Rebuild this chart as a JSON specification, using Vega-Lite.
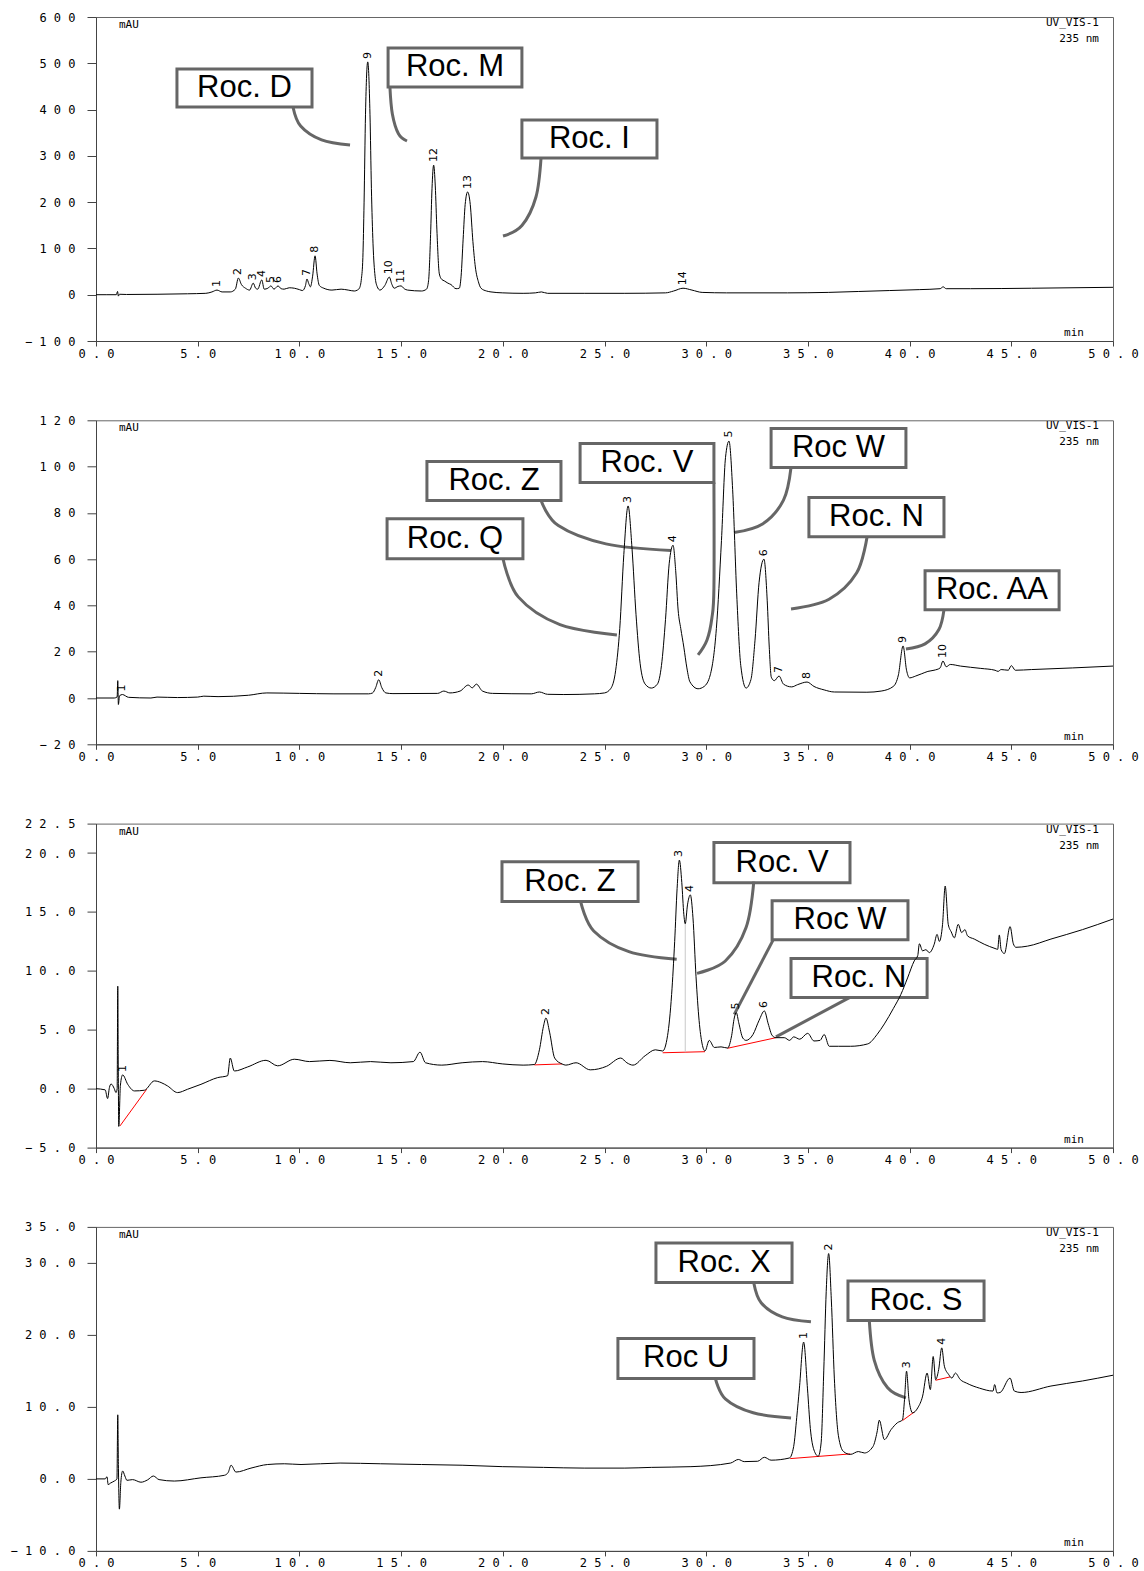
{
"$schema": "https://vega.github.io/schema/vega-lite/v6.json",
"padding": {"left": 9, "top": 10, "right": 0, "bottom": 0},
"background": "#ffffff",
"spacing": 79.3,
"bounds": "flush",
"config": {
  "view": {"stroke": "#666666", "strokeWidth": 1},
  "axis": {"grid": false, "domainColor": "#444444", "tickColor": "#444444", "labelFont": "DejaVu Sans Mono", "labelFontSize": 12, "labelColor": "#000000", "labelFlush": false, "labelOverlap": false, "domainWidth": 1, "tickWidth": 1},
  "axisX": {"tickSize": 5, "labelPadding": 2},
  "axisY": {"tickSize": 9, "labelPadding": 12}
},
"datasets": {
"trace": [
{"p":1,"t":0,"v":0},{"p":1,"t":0.5,"v":0},{"p":1,"t":1.0,"v":0},{"p":1,"t":1.06,"v":7},{"p":1,"t":1.1,"v":-3},{"p":1,"t":1.15,"v":1},{"p":1,"t":1.5,"v":0.5},{"p":1,"t":3.0,"v":1},{"p":1,"t":4.5,"v":2},{"p":1,"t":5.4,"v":3},{"p":1,"t":5.7,"v":6},{"p":1,"t":5.95,"v":10},{"p":1,"t":6.2,"v":6},{"p":1,"t":6.6,"v":6},{"p":1,"t":6.85,"v":12},{"p":1,"t":7.0,"v":36},{"p":1,"t":7.15,"v":22},{"p":1,"t":7.35,"v":14},{"p":1,"t":7.55,"v":10},{"p":1,"t":7.73,"v":25},{"p":1,"t":7.85,"v":14},{"p":1,"t":7.95,"v":12},{"p":1,"t":8.15,"v":32},{"p":1,"t":8.27,"v":12},{"p":1,"t":8.45,"v":14},{"p":1,"t":8.6,"v":19},{"p":1,"t":8.75,"v":12},{"p":1,"t":8.95,"v":19},{"p":1,"t":9.1,"v":13},{"p":1,"t":9.25,"v":12},{"p":1,"t":9.5,"v":15},{"p":1,"t":9.75,"v":14},{"p":1,"t":10.0,"v":11},{"p":1,"t":10.15,"v":9},{"p":1,"t":10.3,"v":20},{"p":1,"t":10.37,"v":34},{"p":1,"t":10.46,"v":24},{"p":1,"t":10.54,"v":17},{"p":1,"t":10.65,"v":40},{"p":1,"t":10.77,"v":84},{"p":1,"t":10.87,"v":45},{"p":1,"t":10.98,"v":20},{"p":1,"t":11.2,"v":14},{"p":1,"t":11.6,"v":10},{"p":1,"t":12.05,"v":12},{"p":1,"t":12.4,"v":10},{"p":1,"t":12.7,"v":8},{"p":1,"t":12.85,"v":10},{"p":1,"t":12.95,"v":14},{"p":1,"t":13.05,"v":35},{"p":1,"t":13.12,"v":80},{"p":1,"t":13.18,"v":200},{"p":1,"t":13.25,"v":390},{"p":1,"t":13.36,"v":503},{"p":1,"t":13.47,"v":390},{"p":1,"t":13.54,"v":230},{"p":1,"t":13.62,"v":110},{"p":1,"t":13.72,"v":40},{"p":1,"t":13.82,"v":18},{"p":1,"t":13.96,"v":10},{"p":1,"t":14.2,"v":20},{"p":1,"t":14.42,"v":38},{"p":1,"t":14.55,"v":22},{"p":1,"t":14.66,"v":14},{"p":1,"t":14.85,"v":18},{"p":1,"t":15.0,"v":19},{"p":1,"t":15.15,"v":13},{"p":1,"t":15.32,"v":10},{"p":1,"t":16.0,"v":8},{"p":1,"t":16.25,"v":12},{"p":1,"t":16.35,"v":30},{"p":1,"t":16.45,"v":130},{"p":1,"t":16.52,"v":230},{"p":1,"t":16.6,"v":280},{"p":1,"t":16.68,"v":235},{"p":1,"t":16.76,"v":140},{"p":1,"t":16.88,"v":45},{"p":1,"t":17.0,"v":33},{"p":1,"t":17.12,"v":30},{"p":1,"t":17.3,"v":25},{"p":1,"t":17.45,"v":22},{"p":1,"t":17.7,"v":13},{"p":1,"t":17.86,"v":14},{"p":1,"t":17.95,"v":40},{"p":1,"t":18.05,"v":120},{"p":1,"t":18.15,"v":195},{"p":1,"t":18.27,"v":222},{"p":1,"t":18.4,"v":195},{"p":1,"t":18.53,"v":115},{"p":1,"t":18.65,"v":60},{"p":1,"t":18.8,"v":28},{"p":1,"t":18.93,"v":14},{"p":1,"t":19.2,"v":8},{"p":1,"t":19.42,"v":6},{"p":1,"t":20.0,"v":4},{"p":1,"t":21.0,"v":3},{"p":1,"t":21.6,"v":4},{"p":1,"t":21.9,"v":6},{"p":1,"t":22.2,"v":3},{"p":1,"t":24.0,"v":3},{"p":1,"t":26.0,"v":3},{"p":1,"t":28.0,"v":4},{"p":1,"t":28.4,"v":8},{"p":1,"t":28.86,"v":14},{"p":1,"t":29.3,"v":10},{"p":1,"t":29.8,"v":5},{"p":1,"t":31.0,"v":4},{"p":1,"t":34.0,"v":4},{"p":1,"t":36.0,"v":5},{"p":1,"t":37.5,"v":7},{"p":1,"t":39.0,"v":9},{"p":1,"t":40.5,"v":11},{"p":1,"t":41.5,"v":13},{"p":1,"t":41.65,"v":17},{"p":1,"t":41.8,"v":13},{"p":1,"t":43.0,"v":13},{"p":1,"t":46.0,"v":14},{"p":1,"t":50.0,"v":16},

{"p":2,"t":0,"v":0},{"p":2,"t":0.9,"v":0},{"p":2,"t":1.04,"v":0.5},{"p":2,"t":1.07,"v":7.5},{"p":2,"t":1.1,"v":-2.8},{"p":2,"t":1.16,"v":1},{"p":2,"t":1.3,"v":1.5},{"p":2,"t":1.6,"v":0.3},{"p":2,"t":2.7,"v":0},{"p":2,"t":3.0,"v":0.4},{"p":2,"t":4.0,"v":0.2},{"p":2,"t":5.0,"v":0.4},{"p":2,"t":5.3,"v":0.8},{"p":2,"t":6.0,"v":0.6},{"p":2,"t":7.5,"v":1.2},{"p":2,"t":8.4,"v":2.2},{"p":2,"t":10.0,"v":2.0},{"p":2,"t":11.7,"v":1.8},{"p":2,"t":13.4,"v":1.8},{"p":2,"t":13.6,"v":2.2},{"p":2,"t":13.75,"v":4.5},{"p":2,"t":13.9,"v":7.9},{"p":2,"t":14.05,"v":4.5},{"p":2,"t":14.25,"v":2.2},{"p":2,"t":14.6,"v":1.9},{"p":2,"t":16.8,"v":2.0},{"p":2,"t":17.1,"v":3.0},{"p":2,"t":17.4,"v":2.2},{"p":2,"t":17.9,"v":3.0},{"p":2,"t":18.3,"v":5.6},{"p":2,"t":18.5,"v":4.4},{"p":2,"t":18.7,"v":6.0},{"p":2,"t":19.0,"v":3.0},{"p":2,"t":19.5,"v":2.0},{"p":2,"t":21.4,"v":1.8},{"p":2,"t":21.8,"v":2.6},{"p":2,"t":22.2,"v":1.6},{"p":2,"t":23.0,"v":1.5},{"p":2,"t":24.5,"v":1.8},{"p":2,"t":25.0,"v":2.2},{"p":2,"t":25.3,"v":4},{"p":2,"t":25.55,"v":12},{"p":2,"t":25.75,"v":30},{"p":2,"t":25.95,"v":62},{"p":2,"t":26.16,"v":83},{"p":2,"t":26.35,"v":65},{"p":2,"t":26.55,"v":36},{"p":2,"t":26.75,"v":15},{"p":2,"t":27.0,"v":6},{"p":2,"t":27.3,"v":4.3},{"p":2,"t":27.6,"v":6},{"p":2,"t":27.8,"v":14},{"p":2,"t":28.0,"v":34},{"p":2,"t":28.18,"v":58},{"p":2,"t":28.37,"v":66},{"p":2,"t":28.5,"v":55},{"p":2,"t":28.62,"v":38},{"p":2,"t":28.75,"v":30},{"p":2,"t":28.9,"v":22},{"p":2,"t":29.05,"v":13},{"p":2,"t":29.2,"v":7},{"p":2,"t":29.6,"v":4},{"p":2,"t":29.9,"v":5},{"p":2,"t":30.2,"v":10},{"p":2,"t":30.5,"v":30},{"p":2,"t":30.75,"v":68},{"p":2,"t":30.95,"v":104},{"p":2,"t":31.12,"v":111},{"p":2,"t":31.3,"v":90},{"p":2,"t":31.5,"v":45},{"p":2,"t":31.7,"v":14},{"p":2,"t":31.96,"v":4.3},{"p":2,"t":32.2,"v":8},{"p":2,"t":32.4,"v":25},{"p":2,"t":32.6,"v":50},{"p":2,"t":32.84,"v":60},{"p":2,"t":33.0,"v":42},{"p":2,"t":33.1,"v":22},{"p":2,"t":33.2,"v":9},{"p":2,"t":33.35,"v":7.5},{"p":2,"t":33.58,"v":9.5},{"p":2,"t":33.8,"v":6},{"p":2,"t":34.2,"v":4.8},{"p":2,"t":34.5,"v":5.8},{"p":2,"t":34.96,"v":6.9},{"p":2,"t":35.3,"v":5},{"p":2,"t":35.8,"v":3.5},{"p":2,"t":36.3,"v":2.6},{"p":2,"t":37.9,"v":2.5},{"p":2,"t":38.6,"v":3.0},{"p":2,"t":39.2,"v":5},{"p":2,"t":39.45,"v":10},{"p":2,"t":39.68,"v":22.5},{"p":2,"t":39.85,"v":12},{"p":2,"t":40.0,"v":8.7},{"p":2,"t":40.3,"v":9.5},{"p":2,"t":40.6,"v":10.5},{"p":2,"t":40.9,"v":11.5},{"p":2,"t":41.2,"v":12},{"p":2,"t":41.5,"v":13},{"p":2,"t":41.64,"v":16},{"p":2,"t":41.8,"v":13.5},{"p":2,"t":42.0,"v":14.5},{"p":2,"t":42.5,"v":13.8},{"p":2,"t":43.5,"v":12.8},{"p":2,"t":44.2,"v":12},{"p":2,"t":44.35,"v":11.5},{"p":2,"t":44.5,"v":12.3},{"p":2,"t":44.85,"v":12},{"p":2,"t":45.0,"v":14},{"p":2,"t":45.2,"v":12},{"p":2,"t":46.0,"v":12.3},{"p":2,"t":48.0,"v":13},{"p":2,"t":50.0,"v":13.8},

{"p":3,"t":0,"v":0},{"p":3,"t":0.45,"v":-0.1},{"p":3,"t":0.57,"v":-0.84},{"p":3,"t":0.66,"v":0.1},{"p":3,"t":0.74,"v":0.4},{"p":3,"t":0.9,"v":0},{"p":3,"t":0.98,"v":-0.33},{"p":3,"t":1.04,"v":0},{"p":3,"t":1.07,"v":8.7},{"p":3,"t":1.09,"v":3},{"p":3,"t":1.12,"v":-3.2},{"p":3,"t":1.2,"v":0.3},{"p":3,"t":1.31,"v":1.17},{"p":3,"t":1.56,"v":0.37},{"p":3,"t":1.89,"v":-0.19},{"p":3,"t":2.38,"v":-0.13},{"p":3,"t":2.87,"v":0.66},{"p":3,"t":3.2,"v":0.52},{"p":3,"t":3.52,"v":0.23},{"p":3,"t":4.01,"v":-0.33},{"p":3,"t":4.5,"v":-0.05},{"p":3,"t":5.16,"v":0.37},{"p":3,"t":5.98,"v":0.94},{"p":3,"t":6.47,"v":1.1},{"p":3,"t":6.6,"v":2.6},{"p":3,"t":6.8,"v":1.5},{"p":3,"t":7.46,"v":1.85},{"p":3,"t":8.36,"v":2.41},{"p":3,"t":8.93,"v":1.94},{"p":3,"t":9.75,"v":2.5},{"p":3,"t":10.5,"v":2.3},{"p":3,"t":11.5,"v":2.4},{"p":3,"t":12.5,"v":2.2},{"p":3,"t":13.5,"v":2.3},{"p":3,"t":14.5,"v":2.2},{"p":3,"t":15.6,"v":2.3},{"p":3,"t":15.93,"v":3.1},{"p":3,"t":16.2,"v":2.2},{"p":3,"t":17.0,"v":2.0},{"p":3,"t":18.0,"v":2.2},{"p":3,"t":19.0,"v":2.3},{"p":3,"t":20.0,"v":2.1},{"p":3,"t":21.0,"v":2.0},{"p":3,"t":21.55,"v":2.05},{"p":3,"t":21.8,"v":3.3},{"p":3,"t":22.0,"v":5.3},{"p":3,"t":22.12,"v":6.0},{"p":3,"t":22.3,"v":4.8},{"p":3,"t":22.55,"v":2.6},{"p":3,"t":22.91,"v":2.1},{"p":3,"t":23.1,"v":2.0},{"p":3,"t":23.6,"v":2.2},{"p":3,"t":24.3,"v":1.6},{"p":3,"t":25.1,"v":1.9},{"p":3,"t":25.8,"v":2.6},{"p":3,"t":26.1,"v":2.2},{"p":3,"t":26.4,"v":2.0},{"p":3,"t":27.0,"v":2.8},{"p":3,"t":27.5,"v":3.3},{"p":3,"t":27.86,"v":3.2},{"p":3,"t":28.1,"v":4.5},{"p":3,"t":28.3,"v":8},{"p":3,"t":28.45,"v":12.5},{"p":3,"t":28.57,"v":17},{"p":3,"t":28.68,"v":19.4},{"p":3,"t":28.8,"v":17.5},{"p":3,"t":28.9,"v":14.8},{"p":3,"t":28.97,"v":14.0},{"p":3,"t":29.08,"v":15.6},{"p":3,"t":29.22,"v":16.45},{"p":3,"t":29.35,"v":14.5},{"p":3,"t":29.5,"v":9.5},{"p":3,"t":29.65,"v":5.8},{"p":3,"t":29.8,"v":3.8},{"p":3,"t":29.94,"v":3.2},{"p":3,"t":30.15,"v":4.1},{"p":3,"t":30.4,"v":3.5},{"p":3,"t":30.73,"v":3.55},{"p":3,"t":31.05,"v":3.45},{"p":3,"t":31.25,"v":4.5},{"p":3,"t":31.38,"v":6.0},{"p":3,"t":31.48,"v":6.46},{"p":3,"t":31.6,"v":5.6},{"p":3,"t":31.8,"v":4.3},{"p":3,"t":31.96,"v":4.1},{"p":3,"t":32.3,"v":4.6},{"p":3,"t":32.6,"v":5.8},{"p":3,"t":32.86,"v":6.6},{"p":3,"t":33.05,"v":5.5},{"p":3,"t":33.25,"v":4.5},{"p":3,"t":33.43,"v":4.33},{"p":3,"t":33.84,"v":4.33},{"p":3,"t":34.1,"v":4.1},{"p":3,"t":34.3,"v":4.4},{"p":3,"t":34.6,"v":4.2},{"p":3,"t":34.99,"v":4.7},{"p":3,"t":35.3,"v":4.05},{"p":3,"t":35.6,"v":4.1},{"p":3,"t":35.8,"v":4.6},{"p":3,"t":36.05,"v":3.6},{"p":3,"t":36.5,"v":3.6},{"p":3,"t":37.1,"v":3.6},{"p":3,"t":37.94,"v":3.8},{"p":3,"t":38.4,"v":4.6},{"p":3,"t":38.76,"v":5.5},{"p":3,"t":39.2,"v":6.8},{"p":3,"t":39.57,"v":8.0},{"p":3,"t":39.9,"v":9.4},{"p":3,"t":40.23,"v":10.85},{"p":3,"t":40.4,"v":11.3},{"p":3,"t":40.48,"v":12.3},{"p":3,"t":40.64,"v":11.7},{"p":3,"t":40.8,"v":11.8},{"p":3,"t":40.97,"v":11.55},{"p":3,"t":41.21,"v":12.26},{"p":3,"t":41.35,"v":13.1},{"p":3,"t":41.46,"v":12.5},{"p":3,"t":41.62,"v":13.95},{"p":3,"t":41.75,"v":17.2},{"p":3,"t":41.9,"v":13.95},{"p":3,"t":42.05,"v":13.3},{"p":3,"t":42.2,"v":12.8},{"p":3,"t":42.39,"v":13.95},{"p":3,"t":42.56,"v":13.25},{"p":3,"t":42.72,"v":13.5},{"p":3,"t":42.85,"v":12.97},{"p":3,"t":43.18,"v":12.7},{"p":3,"t":43.67,"v":12.26},{"p":3,"t":44.2,"v":11.9},{"p":3,"t":44.33,"v":11.83},{"p":3,"t":44.41,"v":13.05},{"p":3,"t":44.5,"v":11.8},{"p":3,"t":44.66,"v":11.47},{"p":3,"t":44.94,"v":13.76},{"p":3,"t":45.1,"v":12.3},{"p":3,"t":45.23,"v":12.0},{"p":3,"t":45.8,"v":12.1},{"p":3,"t":46.95,"v":12.7},{"p":3,"t":48.5,"v":13.5},{"p":3,"t":50.0,"v":14.4},

{"p":4,"t":0,"v":0},{"p":4,"t":0.45,"v":0},{"p":4,"t":0.54,"v":0.3},{"p":4,"t":0.6,"v":-0.8},{"p":4,"t":0.7,"v":-0.6},{"p":4,"t":0.9,"v":-0.3},{"p":4,"t":1.03,"v":0},{"p":4,"t":1.07,"v":8.9},{"p":4,"t":1.1,"v":2},{"p":4,"t":1.15,"v":-4.2},{"p":4,"t":1.22,"v":-0.5},{"p":4,"t":1.31,"v":1.1},{"p":4,"t":1.42,"v":0.4},{"p":4,"t":1.52,"v":-0.2},{"p":4,"t":1.8,"v":-0.1},{"p":4,"t":2.21,"v":-0.46},{"p":4,"t":2.54,"v":-0.13},{"p":4,"t":2.82,"v":0.4},{"p":4,"t":3.1,"v":-0.1},{"p":4,"t":3.85,"v":-0.3},{"p":4,"t":5.16,"v":0.15},{"p":4,"t":6.31,"v":0.5},{"p":4,"t":6.5,"v":0.9},{"p":4,"t":6.64,"v":1.9},{"p":4,"t":6.88,"v":0.95},{"p":4,"t":7.62,"v":1.5},{"p":4,"t":8.44,"v":2.0},{"p":4,"t":9.26,"v":2.1},{"p":4,"t":10.08,"v":2.0},{"p":4,"t":12.0,"v":2.2},{"p":4,"t":14.0,"v":2.1},{"p":4,"t":16.0,"v":2.0},{"p":4,"t":18.0,"v":1.9},{"p":4,"t":20.0,"v":1.7},{"p":4,"t":22.0,"v":1.6},{"p":4,"t":24.0,"v":1.5},{"p":4,"t":26.0,"v":1.5},{"p":4,"t":27.3,"v":1.6},{"p":4,"t":29.25,"v":1.7},{"p":4,"t":31.2,"v":2.2},{"p":4,"t":31.58,"v":2.7},{"p":4,"t":31.87,"v":2.4},{"p":4,"t":32.53,"v":2.45},{"p":4,"t":32.86,"v":3.0},{"p":4,"t":33.19,"v":2.6},{"p":4,"t":34.09,"v":2.9},{"p":4,"t":34.3,"v":4.5},{"p":4,"t":34.45,"v":8.5},{"p":4,"t":34.58,"v":12.5},{"p":4,"t":34.79,"v":19.0},{"p":4,"t":34.98,"v":12.5},{"p":4,"t":35.12,"v":7},{"p":4,"t":35.3,"v":4.0},{"p":4,"t":35.51,"v":3.15},{"p":4,"t":35.65,"v":5},{"p":4,"t":35.78,"v":15},{"p":4,"t":35.9,"v":26},{"p":4,"t":36.02,"v":31.3},{"p":4,"t":36.15,"v":25},{"p":4,"t":36.3,"v":14},{"p":4,"t":36.5,"v":6},{"p":4,"t":36.75,"v":3.8},{"p":4,"t":37.09,"v":3.4},{"p":4,"t":37.48,"v":3.8},{"p":4,"t":37.78,"v":3.6},{"p":4,"t":38.2,"v":4.5},{"p":4,"t":38.4,"v":6.5},{"p":4,"t":38.51,"v":8.15},{"p":4,"t":38.76,"v":5.46},{"p":4,"t":39.09,"v":6.85},{"p":4,"t":39.4,"v":7.8},{"p":4,"t":39.65,"v":8.2},{"p":4,"t":39.75,"v":11},{"p":4,"t":39.85,"v":14.96},{"p":4,"t":39.97,"v":11},{"p":4,"t":40.15,"v":9.17},{"p":4,"t":40.4,"v":9.86},{"p":4,"t":40.64,"v":11.5},{"p":4,"t":40.86,"v":14.7},{"p":4,"t":41.02,"v":12.4},{"p":4,"t":41.16,"v":17.0},{"p":4,"t":41.28,"v":13.8},{"p":4,"t":41.43,"v":15.2},{"p":4,"t":41.58,"v":18.2},{"p":4,"t":41.71,"v":15.65},{"p":4,"t":41.92,"v":14.5},{"p":4,"t":42.08,"v":14.0},{"p":4,"t":42.25,"v":14.7},{"p":4,"t":42.49,"v":13.8},{"p":4,"t":42.8,"v":13.3},{"p":4,"t":43.44,"v":12.6},{"p":4,"t":44.1,"v":12.2},{"p":4,"t":44.18,"v":13.1},{"p":4,"t":44.3,"v":11.94},{"p":4,"t":44.45,"v":12.0},{"p":4,"t":44.94,"v":14.0},{"p":4,"t":45.15,"v":12.2},{"p":4,"t":45.48,"v":12.0},{"p":4,"t":46.95,"v":12.9},{"p":4,"t":48.5,"v":13.6},{"p":4,"t":50.0,"v":14.4}
],
"boxes": [
{"p":1,"name":"Roc. D","t":3.98,"t2":10.62,"v":405.6,"v2":487.7,"tc":7.30,"vc":446.6},
{"p":1,"name":"Roc. M","t":14.36,"t2":20.94,"v":448.8,"v2":533.0,"tc":17.65,"vc":490.9},
{"p":1,"name":"Roc. I","t":20.94,"t2":27.58,"v":295.4,"v2":377.5,"tc":24.26,"vc":336.4},
{"p":2,"name":"Roc. Z","t":16.27,"t2":22.86,"v":85.3,"v2":102.2,"tc":19.57,"vc":93.8},
{"p":2,"name":"Roc. V","t":23.80,"t2":30.38,"v":93.1,"v2":110.0,"tc":27.09,"vc":101.6},
{"p":2,"name":"Roc W","t":33.19,"t2":39.82,"v":99.6,"v2":116.5,"tc":36.50,"vc":108.1},
{"p":2,"name":"Roc. N","t":35.05,"t2":41.69,"v":69.7,"v2":86.6,"tc":38.37,"vc":78.2},
{"p":2,"name":"Roc. AA","t":40.76,"t2":47.35,"v":38.1,"v2":55.0,"tc":44.05,"vc":46.5},
{"p":2,"name":"Roc. Q","t":14.31,"t2":20.99,"v":60.2,"v2":77.5,"tc":17.65,"vc":68.9},
{"p":3,"name":"Roc. Z","t":19.96,"t2":26.65,"v":15.88,"v2":19.27,"tc":23.30,"vc":17.58},
{"p":3,"name":"Roc. V","t":30.38,"t2":37.07,"v":17.49,"v2":20.89,"tc":33.73,"vc":19.19},
{"p":3,"name":"Roc W","t":33.24,"t2":39.92,"v":12.65,"v2":15.96,"tc":36.58,"vc":14.31},
{"p":3,"name":"Roc. N","t":34.17,"t2":40.86,"v":7.73,"v2":11.04,"tc":37.51,"vc":9.39},
{"p":4,"name":"Roc. X","t":27.53,"t2":34.22,"v":27.29,"v2":32.78,"tc":30.88,"vc":30.04},
{"p":4,"name":"Roc. S","t":36.97,"t2":43.66,"v":22.01,"v2":27.5,"tc":40.31,"vc":24.76},
{"p":4,"name":"Roc U","t":25.66,"t2":32.35,"v":13.96,"v2":19.51,"tc":29.01,"vc":16.74}
],
"conn": [
{"p":1,"id":"D","k":0,"t":9.685,"v":405.6},{"p":1,"id":"D","k":1,"t":10.06,"v":364.5},{"p":1,"id":"D","k":2,"t":11.09,"v":334.5},{"p":1,"id":"D","k":3,"t":12.49,"v":323.5},
{"p":1,"id":"M","k":0,"t":14.45,"v":448.8},{"p":1,"id":"M","k":1,"t":14.57,"v":390.4},{"p":1,"id":"M","k":2,"t":14.87,"v":347.7},{"p":1,"id":"M","k":3,"t":15.29,"v":332.1},
{"p":1,"id":"I","k":0,"t":21.88,"v":295.4},{"p":1,"id":"I","k":1,"t":21.63,"v":211.1},{"p":1,"id":"I","k":2,"t":20.94,"v":149.5},{"p":1,"id":"I","k":3,"t":20.01,"v":126.9},
{"p":2,"id":"Z","k":0,"t":21.88,"v":85.3},{"p":2,"id":"Z","k":1,"t":22.73,"v":74.5},{"p":2,"id":"Z","k":2,"t":25.07,"v":66.6},{"p":2,"id":"Z","k":3,"t":28.27,"v":63.7},
{"p":2,"id":"V","k":0,"t":30.38,"v":93.1},{"p":2,"id":"V","k":1,"t":30.38,"v":47.6},{"p":2,"id":"V","k":2,"t":30.28,"v":34.6},{"p":2,"id":"V","k":3,"t":30.04,"v":25.1},{"p":2,"id":"V","k":4,"t":29.6,"v":18.6},
{"p":2,"id":"W","k":0,"t":34.17,"v":99.6},{"p":2,"id":"W","k":1,"t":33.80,"v":85.5},{"p":2,"id":"W","k":2,"t":32.77,"v":75.2},{"p":2,"id":"W","k":3,"t":31.37,"v":71.5},
{"p":2,"id":"N","k":0,"t":37.91,"v":69.7},{"p":2,"id":"N","k":1,"t":37.40,"v":54.1},{"p":2,"id":"N","k":2,"t":36.04,"v":42.7},{"p":2,"id":"N","k":3,"t":34.17,"v":38.5},
{"p":2,"id":"AA","k":0,"t":41.69,"v":38.1},{"p":2,"id":"AA","k":1,"t":41.44,"v":29.6},{"p":2,"id":"AA","k":2,"t":40.76,"v":23.4},{"p":2,"id":"AA","k":3,"t":39.82,"v":21.2},
{"p":2,"id":"Q","k":0,"t":20.01,"v":60.2},{"p":2,"id":"Q","k":1,"t":20.76,"v":43.7},{"p":2,"id":"Q","k":2,"t":22.81,"v":31.7},{"p":2,"id":"Q","k":3,"t":25.61,"v":27.2},
{"p":3,"id":"Z","k":0,"t":23.84,"v":15.79},{"p":3,"id":"Z","k":1,"t":24.47,"v":13.39},{"p":3,"id":"Z","k":2,"t":26.20,"v":11.63},{"p":3,"id":"Z","k":3,"t":28.55,"v":10.98},
{"p":3,"id":"V","k":0,"t":32.34,"v":17.58},{"p":3,"id":"V","k":1,"t":31.96,"v":13.68},{"p":3,"id":"V","k":2,"t":30.94,"v":10.84},{"p":3,"id":"V","k":3,"t":29.55,"v":9.79},
{"p":3,"id":"W","k":0,"t":33.30,"v":12.65},{"p":3,"id":"W","k":1,"t":31.38,"v":6.31},
{"p":3,"id":"N","k":0,"t":37.04,"v":7.73},{"p":3,"id":"N","k":1,"t":33.43,"v":4.40},
{"p":4,"id":"X","k":0,"t":32.34,"v":27.22},{"p":4,"id":"X","k":1,"t":32.71,"v":24.44},{"p":4,"id":"X","k":2,"t":33.74,"v":22.51},{"p":4,"id":"X","k":3,"t":35.15,"v":21.81},
{"p":4,"id":"S","k":0,"t":38.02,"v":21.94},{"p":4,"id":"S","k":1,"t":38.26,"v":16.50},{"p":4,"id":"S","k":2,"t":38.92,"v":12.65},{"p":4,"id":"S","k":3,"t":39.82,"v":11.25},
{"p":4,"id":"U","k":0,"t":30.45,"v":13.96},{"p":4,"id":"U","k":1,"t":30.94,"v":11.12},{"p":4,"id":"U","k":2,"t":32.31,"v":9.18},{"p":4,"id":"U","k":3,"t":34.17,"v":8.47}
],
"base": [
{"p":3,"t":1.18,"v":-3.16,"t2":2.49,"v2":-0.05,"c":"#ff0000"},
{"p":3,"t":21.55,"v":2.02,"t2":22.91,"v2":2.1,"c":"#ff0000"},
{"p":3,"t":27.86,"v":3.05,"t2":29.94,"v2":3.14,"c":"#ff0000"},
{"p":3,"t":31.05,"v":3.43,"t2":33.43,"v2":4.33,"c":"#ff0000"},
{"p":3,"t":28.97,"v":3.1,"t2":28.97,"v2":14.0,"c":"#c8c8c8"},
{"p":4,"t":34.13,"v":2.82,"t2":37.09,"v2":3.47,"c":"#ff0000"},
{"p":4,"t":39.65,"v":8.1,"t2":40.23,"v2":9.3,"c":"#ff0000"},
{"p":4,"t":41.28,"v":13.7,"t2":42.0,"v2":14.17,"c":"#ff0000"}
],
"peaks": [
{"p":1,"t":5.95,"v":10,"lab":"1"},{"p":1,"t":7.0,"v":36,"lab":"2"},{"p":1,"t":7.73,"v":25,"lab":"3"},{"p":1,"t":8.15,"v":32,"lab":"4"},{"p":1,"t":8.6,"v":19,"lab":"5"},{"p":1,"t":8.95,"v":19,"lab":"6"},{"p":1,"t":10.37,"v":34,"lab":"7"},{"p":1,"t":10.77,"v":84,"lab":"8"},{"p":1,"t":13.36,"v":503,"lab":"9"},{"p":1,"t":14.42,"v":38,"lab":"10"},{"p":1,"t":15.0,"v":19,"lab":"11"},{"p":1,"t":16.6,"v":280,"lab":"12"},{"p":1,"t":18.27,"v":222,"lab":"13"},{"p":1,"t":28.86,"v":14,"lab":"14"},
{"p":2,"t":1.3,"v":1.5,"lab":"1"},{"p":2,"t":13.9,"v":7.9,"lab":"2"},{"p":2,"t":26.16,"v":83,"lab":"3"},{"p":2,"t":28.37,"v":66,"lab":"4"},{"p":2,"t":31.12,"v":111.3,"lab":"5"},{"p":2,"t":32.84,"v":60,"lab":"6"},{"p":2,"t":33.58,"v":9.5,"lab":"7"},{"p":2,"t":34.96,"v":6.9,"lab":"8"},{"p":2,"t":39.68,"v":22.5,"lab":"9"},{"p":2,"t":41.64,"v":16,"lab":"10"},
{"p":3,"t":1.31,"v":1.17,"lab":"1"},{"p":3,"t":22.12,"v":6.0,"lab":"2"},{"p":3,"t":28.68,"v":19.4,"lab":"3"},{"p":3,"t":29.22,"v":16.45,"lab":"4"},{"p":3,"t":31.48,"v":6.46,"lab":"5"},{"p":3,"t":32.86,"v":6.6,"lab":"6"},
{"p":4,"t":34.79,"v":19.0,"lab":"1"},{"p":4,"t":36.02,"v":31.3,"lab":"2"},{"p":4,"t":39.85,"v":14.96,"lab":"3"},{"p":4,"t":41.58,"v":18.2,"lab":"4"}
],
"notes": [
{"p":1,"side":"L","t":1.13,"v":582.7,"txt":"mAU"},{"p":1,"side":"R","t":49.31,"v":587.0,"txt":"UV_VIS-1"},{"p":1,"side":"R","t":49.31,"v":552.5,"txt":"235 nm"},{"p":1,"side":"R","t":48.57,"v":-82.7,"txt":"min"},
{"p":2,"side":"L","t":1.13,"v":116.5,"txt":"mAU"},{"p":2,"side":"R","t":49.31,"v":117.4,"txt":"UV_VIS-1"},{"p":2,"side":"R","t":49.31,"v":110.5,"txt":"235 nm"},{"p":2,"side":"R","t":48.57,"v":-17.0,"txt":"min"},
{"p":3,"side":"L","t":1.13,"v":21.82,"txt":"mAU"},{"p":3,"side":"R","t":49.31,"v":21.99,"txt":"UV_VIS-1"},{"p":3,"side":"R","t":49.31,"v":20.63,"txt":"235 nm"},{"p":3,"side":"R","t":48.57,"v":-4.32,"txt":"min"},
{"p":4,"side":"L","t":1.13,"v":33.89,"txt":"mAU"},{"p":4,"side":"R","t":49.31,"v":34.17,"txt":"UV_VIS-1"},{"p":4,"side":"R","t":49.31,"v":31.94,"txt":"235 nm"},{"p":4,"side":"R","t":48.57,"v":-8.89,"txt":"min"}
]
},
"vconcat": [
{"width": 1017, "height": 324, "layer": [
 {"data": {"name": "boxes"}, "transform": [{"filter": "datum.p == 1"}], "mark": {"type": "rect", "fill": "#ffffff", "stroke": "#666666", "strokeWidth": 3},
  "encoding": {"x": {"field": "t", "type": "quantitative", "title": null, "scale": {"domain": [0, 50], "nice": false, "zero": false}, "axis": {"values": [0,5,10,15,20,25,30,35,40,45,50], "format": ".1f", "labelExpr": "trim(replace(datum.label, regexp('(.)', 'g'), '$1 '))", "title": null}}, "x2": {"field": "t2"},
   "y": {"field": "v", "type": "quantitative", "title": null, "scale": {"domain": [-100, 600], "nice": false, "zero": false}, "axis": {"values": [-100,0,100,200,300,400,500,600], "format": "d", "labelExpr": "trim(replace(datum.label, regexp('(.)', 'g'), '$1 '))", "title": null}}, "y2": {"field": "v2"}}},
 {"data": {"name": "conn"}, "transform": [{"filter": "datum.p == 1"}], "mark": {"type": "line", "interpolate": "cardinal", "stroke": "#666666", "strokeWidth": 3},
  "encoding": {"x": {"field": "t", "type": "quantitative", "title": null}, "y": {"field": "v", "type": "quantitative", "title": null}, "detail": {"field": "id"}, "order": {"field": "k", "type": "quantitative"}}},
 {"data": {"name": "boxes"}, "transform": [{"filter": "datum.p == 1"}], "mark": {"type": "text", "font": "Liberation Sans", "fontSize": 31, "align": "center", "baseline": "middle", "color": "#000000"},
  "encoding": {"x": {"field": "tc", "type": "quantitative", "title": null}, "y": {"field": "vc", "type": "quantitative", "title": null}, "text": {"field": "name"}}},
 {"data": {"name": "trace"}, "transform": [{"filter": "datum.p == 1"}], "mark": {"type": "line", "interpolate": "monotone", "stroke": "#000000", "strokeWidth": 1},
  "encoding": {"x": {"field": "t", "type": "quantitative", "title": null}, "y": {"field": "v", "type": "quantitative", "title": null}}},
 {"data": {"name": "peaks"}, "transform": [{"filter": "datum.p == 1"}], "mark": {"type": "text", "angle": 270, "align": "left", "baseline": "middle", "dx": 3, "font": "DejaVu Sans", "fontSize": 11, "color": "#000000"},
  "encoding": {"x": {"field": "t", "type": "quantitative", "title": null}, "y": {"field": "v", "type": "quantitative", "title": null}, "text": {"field": "lab"}}},
 {"data": {"name": "notes"}, "transform": [{"filter": "datum.p == 1 && datum.side == 'L'"}], "mark": {"type": "text", "align": "left", "baseline": "middle", "font": "DejaVu Sans Mono", "fontSize": 11, "color": "#000000"},
  "encoding": {"x": {"field": "t", "type": "quantitative", "title": null}, "y": {"field": "v", "type": "quantitative", "title": null}, "text": {"field": "txt"}}},
 {"data": {"name": "notes"}, "transform": [{"filter": "datum.p == 1 && datum.side == 'R'"}], "mark": {"type": "text", "align": "right", "baseline": "middle", "font": "DejaVu Sans Mono", "fontSize": 11, "color": "#000000"},
  "encoding": {"x": {"field": "t", "type": "quantitative", "title": null}, "y": {"field": "v", "type": "quantitative", "title": null}, "text": {"field": "txt"}}}
]},
{"width": 1017, "height": 324, "layer": [
 {"data": {"name": "boxes"}, "transform": [{"filter": "datum.p == 2"}], "mark": {"type": "rect", "fill": "#ffffff", "stroke": "#666666", "strokeWidth": 3},
  "encoding": {"x": {"field": "t", "type": "quantitative", "title": null, "scale": {"domain": [0, 50], "nice": false, "zero": false}, "axis": {"values": [0,5,10,15,20,25,30,35,40,45,50], "format": ".1f", "labelExpr": "trim(replace(datum.label, regexp('(.)', 'g'), '$1 '))", "title": null}}, "x2": {"field": "t2"},
   "y": {"field": "v", "type": "quantitative", "title": null, "scale": {"domain": [-20, 120], "nice": false, "zero": false}, "axis": {"values": [-20,0,20,40,60,80,100,120], "format": "d", "labelExpr": "trim(replace(datum.label, regexp('(.)', 'g'), '$1 '))", "title": null}}, "y2": {"field": "v2"}}},
 {"data": {"name": "conn"}, "transform": [{"filter": "datum.p == 2"}], "mark": {"type": "line", "interpolate": "cardinal", "stroke": "#666666", "strokeWidth": 3},
  "encoding": {"x": {"field": "t", "type": "quantitative", "title": null}, "y": {"field": "v", "type": "quantitative", "title": null}, "detail": {"field": "id"}, "order": {"field": "k", "type": "quantitative"}}},
 {"data": {"name": "boxes"}, "transform": [{"filter": "datum.p == 2"}], "mark": {"type": "text", "font": "Liberation Sans", "fontSize": 31, "align": "center", "baseline": "middle", "color": "#000000"},
  "encoding": {"x": {"field": "tc", "type": "quantitative", "title": null}, "y": {"field": "vc", "type": "quantitative", "title": null}, "text": {"field": "name"}}},
 {"data": {"name": "trace"}, "transform": [{"filter": "datum.p == 2"}], "mark": {"type": "line", "interpolate": "monotone", "stroke": "#000000", "strokeWidth": 1},
  "encoding": {"x": {"field": "t", "type": "quantitative", "title": null}, "y": {"field": "v", "type": "quantitative", "title": null}}},
 {"data": {"name": "peaks"}, "transform": [{"filter": "datum.p == 2"}], "mark": {"type": "text", "angle": 270, "align": "left", "baseline": "middle", "dx": 3, "font": "DejaVu Sans", "fontSize": 11, "color": "#000000"},
  "encoding": {"x": {"field": "t", "type": "quantitative", "title": null}, "y": {"field": "v", "type": "quantitative", "title": null}, "text": {"field": "lab"}}},
 {"data": {"name": "notes"}, "transform": [{"filter": "datum.p == 2 && datum.side == 'L'"}], "mark": {"type": "text", "align": "left", "baseline": "middle", "font": "DejaVu Sans Mono", "fontSize": 11, "color": "#000000"},
  "encoding": {"x": {"field": "t", "type": "quantitative", "title": null}, "y": {"field": "v", "type": "quantitative", "title": null}, "text": {"field": "txt"}}},
 {"data": {"name": "notes"}, "transform": [{"filter": "datum.p == 2 && datum.side == 'R'"}], "mark": {"type": "text", "align": "right", "baseline": "middle", "font": "DejaVu Sans Mono", "fontSize": 11, "color": "#000000"},
  "encoding": {"x": {"field": "t", "type": "quantitative", "title": null}, "y": {"field": "v", "type": "quantitative", "title": null}, "text": {"field": "txt"}}}
]},
{"width": 1017, "height": 324, "layer": [
 {"data": {"name": "boxes"}, "transform": [{"filter": "datum.p == 3"}], "mark": {"type": "rect", "fill": "#ffffff", "stroke": "#666666", "strokeWidth": 3},
  "encoding": {"x": {"field": "t", "type": "quantitative", "title": null, "scale": {"domain": [0, 50], "nice": false, "zero": false}, "axis": {"values": [0,5,10,15,20,25,30,35,40,45,50], "format": ".1f", "labelExpr": "trim(replace(datum.label, regexp('(.)', 'g'), '$1 '))", "title": null}}, "x2": {"field": "t2"},
   "y": {"field": "v", "type": "quantitative", "title": null, "scale": {"domain": [-5, 22.5], "nice": false, "zero": false}, "axis": {"values": [-5,0,5,10,15,20,22.5], "format": ".1f", "labelExpr": "trim(replace(datum.label, regexp('(.)', 'g'), '$1 '))", "title": null}}, "y2": {"field": "v2"}}},
 {"data": {"name": "conn"}, "transform": [{"filter": "datum.p == 3"}], "mark": {"type": "line", "interpolate": "cardinal", "stroke": "#666666", "strokeWidth": 3},
  "encoding": {"x": {"field": "t", "type": "quantitative", "title": null}, "y": {"field": "v", "type": "quantitative", "title": null}, "detail": {"field": "id"}, "order": {"field": "k", "type": "quantitative"}}},
 {"data": {"name": "boxes"}, "transform": [{"filter": "datum.p == 3"}], "mark": {"type": "text", "font": "Liberation Sans", "fontSize": 31, "align": "center", "baseline": "middle", "color": "#000000"},
  "encoding": {"x": {"field": "tc", "type": "quantitative", "title": null}, "y": {"field": "vc", "type": "quantitative", "title": null}, "text": {"field": "name"}}},
 {"data": {"name": "base"}, "transform": [{"filter": "datum.p == 3"}], "mark": {"type": "rule", "strokeWidth": 1},
  "encoding": {"x": {"field": "t", "type": "quantitative", "title": null}, "x2": {"field": "t2"}, "y": {"field": "v", "type": "quantitative", "title": null}, "y2": {"field": "v2"}, "color": {"field": "c", "type": "nominal", "scale": null}}},
 {"data": {"name": "trace"}, "transform": [{"filter": "datum.p == 3"}], "mark": {"type": "line", "interpolate": "monotone", "stroke": "#000000", "strokeWidth": 1},
  "encoding": {"x": {"field": "t", "type": "quantitative", "title": null}, "y": {"field": "v", "type": "quantitative", "title": null}}},
 {"data": {"name": "peaks"}, "transform": [{"filter": "datum.p == 3"}], "mark": {"type": "text", "angle": 270, "align": "left", "baseline": "middle", "dx": 3, "font": "DejaVu Sans", "fontSize": 11, "color": "#000000"},
  "encoding": {"x": {"field": "t", "type": "quantitative", "title": null}, "y": {"field": "v", "type": "quantitative", "title": null}, "text": {"field": "lab"}}},
 {"data": {"name": "notes"}, "transform": [{"filter": "datum.p == 3 && datum.side == 'L'"}], "mark": {"type": "text", "align": "left", "baseline": "middle", "font": "DejaVu Sans Mono", "fontSize": 11, "color": "#000000"},
  "encoding": {"x": {"field": "t", "type": "quantitative", "title": null}, "y": {"field": "v", "type": "quantitative", "title": null}, "text": {"field": "txt"}}},
 {"data": {"name": "notes"}, "transform": [{"filter": "datum.p == 3 && datum.side == 'R'"}], "mark": {"type": "text", "align": "right", "baseline": "middle", "font": "DejaVu Sans Mono", "fontSize": 11, "color": "#000000"},
  "encoding": {"x": {"field": "t", "type": "quantitative", "title": null}, "y": {"field": "v", "type": "quantitative", "title": null}, "text": {"field": "txt"}}}
]},
{"width": 1017, "height": 324, "layer": [
 {"data": {"name": "boxes"}, "transform": [{"filter": "datum.p == 4"}], "mark": {"type": "rect", "fill": "#ffffff", "stroke": "#666666", "strokeWidth": 3},
  "encoding": {"x": {"field": "t", "type": "quantitative", "title": null, "scale": {"domain": [0, 50], "nice": false, "zero": false}, "axis": {"values": [0,5,10,15,20,25,30,35,40,45,50], "format": ".1f", "labelExpr": "trim(replace(datum.label, regexp('(.)', 'g'), '$1 '))", "title": null}}, "x2": {"field": "t2"},
   "y": {"field": "v", "type": "quantitative", "title": null, "scale": {"domain": [-10, 35], "nice": false, "zero": false}, "axis": {"values": [-10,0,10,20,30,35], "format": ".1f", "labelExpr": "trim(replace(datum.label, regexp('(.)', 'g'), '$1 '))", "title": null}}, "y2": {"field": "v2"}}},
 {"data": {"name": "conn"}, "transform": [{"filter": "datum.p == 4"}], "mark": {"type": "line", "interpolate": "cardinal", "stroke": "#666666", "strokeWidth": 3},
  "encoding": {"x": {"field": "t", "type": "quantitative", "title": null}, "y": {"field": "v", "type": "quantitative", "title": null}, "detail": {"field": "id"}, "order": {"field": "k", "type": "quantitative"}}},
 {"data": {"name": "boxes"}, "transform": [{"filter": "datum.p == 4"}], "mark": {"type": "text", "font": "Liberation Sans", "fontSize": 31, "align": "center", "baseline": "middle", "color": "#000000"},
  "encoding": {"x": {"field": "tc", "type": "quantitative", "title": null}, "y": {"field": "vc", "type": "quantitative", "title": null}, "text": {"field": "name"}}},
 {"data": {"name": "base"}, "transform": [{"filter": "datum.p == 4"}], "mark": {"type": "rule", "strokeWidth": 1},
  "encoding": {"x": {"field": "t", "type": "quantitative", "title": null}, "x2": {"field": "t2"}, "y": {"field": "v", "type": "quantitative", "title": null}, "y2": {"field": "v2"}, "color": {"field": "c", "type": "nominal", "scale": null}}},
 {"data": {"name": "trace"}, "transform": [{"filter": "datum.p == 4"}], "mark": {"type": "line", "interpolate": "monotone", "stroke": "#000000", "strokeWidth": 1},
  "encoding": {"x": {"field": "t", "type": "quantitative", "title": null}, "y": {"field": "v", "type": "quantitative", "title": null}}},
 {"data": {"name": "peaks"}, "transform": [{"filter": "datum.p == 4"}], "mark": {"type": "text", "angle": 270, "align": "left", "baseline": "middle", "dx": 3, "font": "DejaVu Sans", "fontSize": 11, "color": "#000000"},
  "encoding": {"x": {"field": "t", "type": "quantitative", "title": null}, "y": {"field": "v", "type": "quantitative", "title": null}, "text": {"field": "lab"}}},
 {"data": {"name": "notes"}, "transform": [{"filter": "datum.p == 4 && datum.side == 'L'"}], "mark": {"type": "text", "align": "left", "baseline": "middle", "font": "DejaVu Sans Mono", "fontSize": 11, "color": "#000000"},
  "encoding": {"x": {"field": "t", "type": "quantitative", "title": null}, "y": {"field": "v", "type": "quantitative", "title": null}, "text": {"field": "txt"}}},
 {"data": {"name": "notes"}, "transform": [{"filter": "datum.p == 4 && datum.side == 'R'"}], "mark": {"type": "text", "align": "right", "baseline": "middle", "font": "DejaVu Sans Mono", "fontSize": 11, "color": "#000000"},
  "encoding": {"x": {"field": "t", "type": "quantitative", "title": null}, "y": {"field": "v", "type": "quantitative", "title": null}, "text": {"field": "txt"}}}
]}
]
}
